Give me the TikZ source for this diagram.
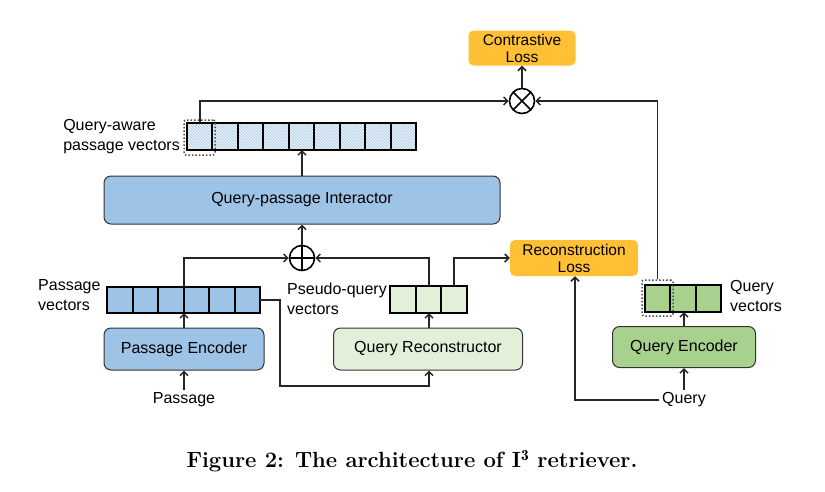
\documentclass[tikz,border=0pt]{standalone}
\usepackage{fontspec}
\setsansfont{Liberation Sans}
\usetikzlibrary{patterns,arrows.meta,calc}
\definecolor{bblue}{HTML}{9DC3E6}
\definecolor{hblue}{HTML}{BDD7EE}
\definecolor{lgreen}{HTML}{E2F0D9}
\definecolor{mgreen}{HTML}{A9D18E}
\definecolor{orng}{HTML}{FFC035}
\begin{document}
\begin{tikzpicture}[x=1pt,y=-1pt,
  box/.style={draw=black!80,line width=1pt,rounded corners=7pt,font=\sffamily\fontsize{16}{18}\selectfont},
  loss/.style={fill=orng,rounded corners=5pt,font=\sffamily\fontsize{15.5}{17}\selectfont,align=center,inner sep=0pt},
  cell/.style={draw=black,line width=2pt},
  lbl/.style={font=\sffamily\fontsize{16}{20}\selectfont,inner sep=0pt},
  con/.style={line width=1.5pt,black!85},
  arr/.style={con,-{Straight Barb[length=4pt,width=8pt]}},
  dot/.style={draw=black!70,dotted,line width=1.5pt,rounded corners=2pt}]
\useasboundingbox (0,0) rectangle (825,491);
% losses
\node[loss,minimum width=107pt,minimum height=35pt] (cl) at (522,48) {Contrastive\\Loss};
\node[loss,minimum width=128pt,minimum height=36pt] (rl) at (574,258) {Reconstruction\\Loss};
% circles
\node[circle,draw,line width=1.6pt,minimum size=25pt,inner sep=0pt] (ot) at (522,101) {};
\draw[line width=1.6pt] ($(ot)+(-8.8,-8.8)$)--($(ot)+(8.8,8.8)$) ($(ot)+(-8.8,8.8)$)--($(ot)+(8.8,-8.8)$);
\node[circle,draw,line width=1.6pt,minimum size=25pt,inner sep=0pt] (op) at (302,258) {};
\draw[line width=1.6pt] ($(op)+(-12.5,0)$)--($(op)+(12.5,0)$) ($(op)+(0,-12.5)$)--($(op)+(0,12.5)$);
% boxes
\node[box,fill=bblue,minimum width=396pt,minimum height=48pt] (qpi) at (302,200) {Query-passage Interactor};
\node[box,fill=bblue,minimum width=160pt,minimum height=42pt] (pe) at (184,349) {Passage Encoder};
\node[box,fill=lgreen,minimum width=189pt,minimum height=42pt] (qr) at (428,349) {Query Reconstructor};
\node[box,fill=mgreen,minimum width=143pt,minimum height=41pt] (qe) at (684,347) {Query Encoder};
% query-aware vectors
\foreach \i in {0,...,8}{
  \path[fill=hblue] (187+25.44*\i,123) rectangle ++(25.44,27);
  \path[pattern=north west lines,pattern color=white] (187+25.44*\i,123) rectangle ++(25.44,27);
  \draw[cell] (187+25.44*\i,123) rectangle ++(25.44,27);}
\coordinate (qa0) at (200,123);
\coordinate (qab) at (302,150);
\node[dot,minimum width=31pt,minimum height=35pt] (qad) at (199.5,137.5) {};
% passage vectors
\foreach \i in {0,...,5}{\draw[cell,fill=bblue] (107+25.5*\i,287) rectangle ++(25.5,26);}
\coordinate (pvt) at (184,287); \coordinate (pvb) at (184,313); \coordinate (pvr) at (260,300);
% pseudo-query vectors
\foreach \i in {0,...,2}{\draw[cell,fill=lgreen] (390+25.7*\i,286) rectangle ++(25.7,27);}
\coordinate (pqa) at (429,286); \coordinate (pqb) at (454,286); \coordinate (pqbot) at (429,313);
% query vectors
\foreach \i in {0,...,2}{\draw[cell,fill=mgreen] (645+25.3*\i,285) rectangle ++(25.3,27);}
\coordinate (qvt) at (659,285); \coordinate (qvb) at (684,312);
\node[dot,minimum width=31pt,minimum height=36pt] (qvd) at (657.5,298) {};
% labels
\node[lbl,anchor=east,align=left] (l1) at (180,137) {Query-aware\\passage vectors};
\node[lbl,anchor=west,align=left] (l2) at (38,295) {Passage\\vectors};
\node[lbl,anchor=west,align=left] (l3) at (287,299) {Pseudo-query\\vectors};
\node[lbl,anchor=west,align=left] (l4) at (730,296) {Query\\vectors};
\node[lbl,inner sep=3pt] (pin) at (184,400) {Passage};
\node[lbl,inner sep=3pt] (qin) at (684,400) {Query};
% connectors
\draw[arr] (ot) -- (cl);
\draw[arr] (qa0) |- (ot);
\draw[arr] (qvd.north) |- (ot);
\draw[arr] (qab |- qpi.north) -- (qab);
\draw[arr] (op) -- (op |- qpi.south);
\draw[arr] (pvt) |- (op);
\draw[arr] (pqa) |- (op);
\draw[arr] (pqb) |- (rl.west);
\draw[arr] (pe.north) -- (pvb);
\draw[arr] (qr.north -| pqbot) -- (pqbot);
\draw[arr] (qe.north) -- (qvb);
\draw[arr] (pin.north) -- (pe.south);
\draw[arr] (qin.north) -- (qe.south);
\draw[arr] (pvr) -- (280,300) |- (429,386) -- (qr.south -| 429,0);
\draw[arr] (qin.west) -| (rl.south -| 575,0);
% caption
\node[font=\bfseries\fontsize{22}{24}\selectfont] (cap) at (412,461) {Figure 2: The architecture of I$^{\mathbf{3}}$ retriever.};
\end{tikzpicture}
\end{document}
